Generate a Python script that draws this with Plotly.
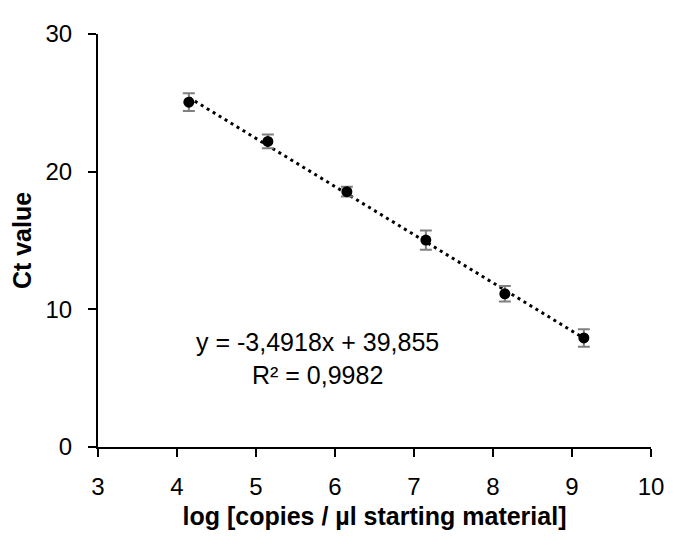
import numpy as np
import plotly.graph_objects as go

# log copies / ul and measured Ct (mean +/- sd)
log_copies = [4.15, 5.15, 6.15, 7.15, 8.15, 9.15]
ct_mean = [25.05, 22.2, 18.55, 15.03, 11.13, 7.92]
ct_sd = [0.65, 0.5, 0.35, 0.7, 0.57, 0.64]

eq_text = "y = -3,4918x + 39,855<br>R² = 0,9982"

FONT = "Liberation Sans, Arial, sans-serif"

slope, icpt = np.polyfit(log_copies, ct_mean, 1)
fit_x = [log_copies[0], log_copies[-1]]
fit_y = [slope * v + icpt for v in fit_x]

trend = go.Scatter(x=fit_x, y=fit_y,
                   mode='lines',
                   line=dict(color='black', width=3, dash='3px,4px'),
                   hoverinfo='none')

dots = go.Scatter(x=log_copies, y=ct_mean,
                  mode='markers',
                  marker=dict(symbol='circle', size=11, color='black'),
                  error_y=dict(type='data', array=ct_sd, visible=True,
                               color='#808080', thickness=2, width=6))

axis = dict(showgrid=False, zeroline=False,
            showline=True, linecolor='black', linewidth=2,
            ticks='outside', ticklen=8, tickwidth=2, tickcolor='black',
            tickfont=dict(family=FONT, size=24, color='black'))

fig = go.Figure([trend, dots])
# page body has an 8px margin, so the figure is 8px smaller than the window
fig.update_layout(
    width=668, height=530,
    margin=dict(l=90, r=17, t=16, b=85),
    showlegend=False,
    plot_bgcolor='white', paper_bgcolor='white',
    font=dict(family=FONT, size=24, color='black'),
    xaxis=dict(axis, range=[3, 10], dtick=1, tick0=3, ticklabelstandoff=9,
               title=dict(text='<b>log [copies / µl starting material]</b>',
                          font=dict(family=FONT, size=25), standoff=9)),
    yaxis=dict(axis, range=[0, 30], dtick=10, ticklabelstandoff=11,
               title=dict(text='<b>Ct value</b>',
                          font=dict(family=FONT, size=25), standoff=7)),
    annotations=[dict(text=eq_text, x=5.78, y=6.45, xref='x', yref='y',
                      showarrow=False, align='center',
                      font=dict(family=FONT, size=25, color='black'))],
)

fig.write_html("out.html")
